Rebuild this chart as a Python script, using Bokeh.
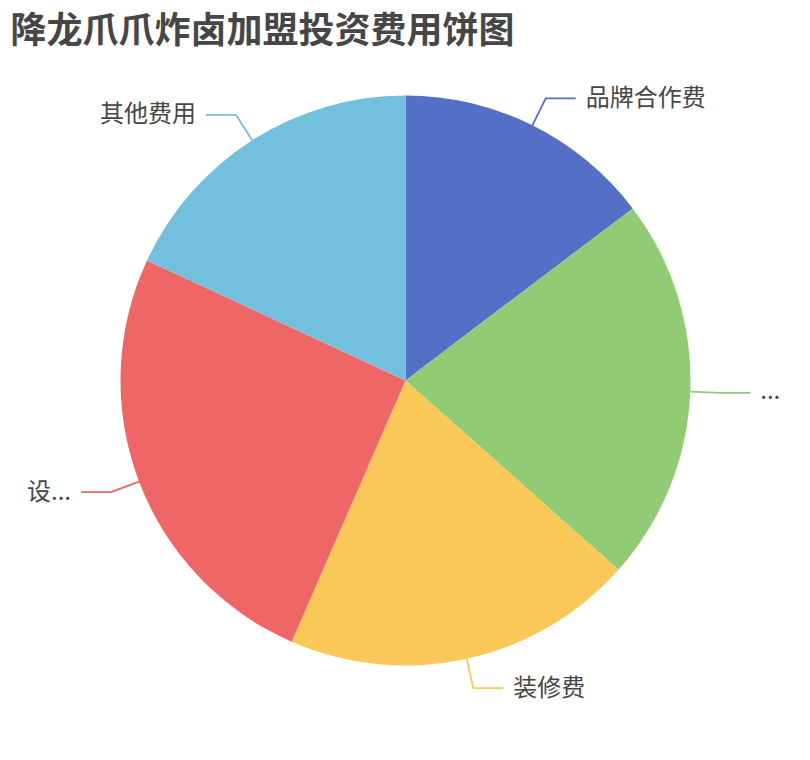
import numpy as np
from bokeh.plotting import figure
from bokeh.models import Range1d, ColumnDataSource
from bokeh.core.properties import value
from bokeh.embed import file_html
from bokeh.resources import INLINE

title = "降龙爪爪炸卤加盟投资费用饼图"
categories = ["品牌合作费", "...", "装修费", "设...", "其他费用"]
values = [14.7, 21.9, 20.0, 25.4, 18.1]
colors = ["#5470c6", "#91cc75", "#fac858", "#ee6666", "#73c0de"]

FONT = "Noto Sans CJK SC"
W, H = 794, 744
p = figure(width=W, height=H, x_range=Range1d(0, 794), y_range=Range1d(16, 760),
           output_backend="svg", toolbar_location=None, min_border=0)
p.axis.visible = False
p.grid.visible = False
p.outline_line_color = None

cx, cy, R = 405, 380, 285
vals = np.array(values, dtype=float)
frac = vals / vals.sum()
cum = np.concatenate([[0], np.cumsum(frac)]) * 2 * np.pi
t0, t1 = cum[:-1], cum[1:]
src = ColumnDataSource(dict(start=np.pi / 2 - t0, end=np.pi / 2 - t1, color=colors))
p.wedge(x=cx, y=cy, radius=R, start_angle="start", end_angle="end", direction="clock",
        fill_color="color", line_color=None, source=src)

mid = (t0 + t1) / 2
for i, m in enumerate(mid):
    s, c = np.sin(m), np.cos(m)
    x1, y1 = cx + R * s, cy + R * c
    x2, y2 = cx + (R + 30) * s, cy + (R + 30) * c
    d = 1 if s >= 0 else -1
    x3 = x2 + d * 30
    p.line([x1, x2, x3], [y1, y2, y2], line_color=colors[i], line_width=1.8)
    p.text(x=[x3 + d * 10], y=[y2 + 3], text=[categories[i]],
           text_align="left" if d > 0 else "right", text_baseline="middle",
           text_font=value(FONT), text_font_size=value("24px"), text_color="#464646")

p.text(x=[10], y=[760 - 26], text=[title], text_align="left", text_baseline="middle",
       text_font=value(FONT), text_font_size=value("36px"), text_font_style="bold",
       text_color="#464646")

open("out.html", "w").write(file_html(p, INLINE))
